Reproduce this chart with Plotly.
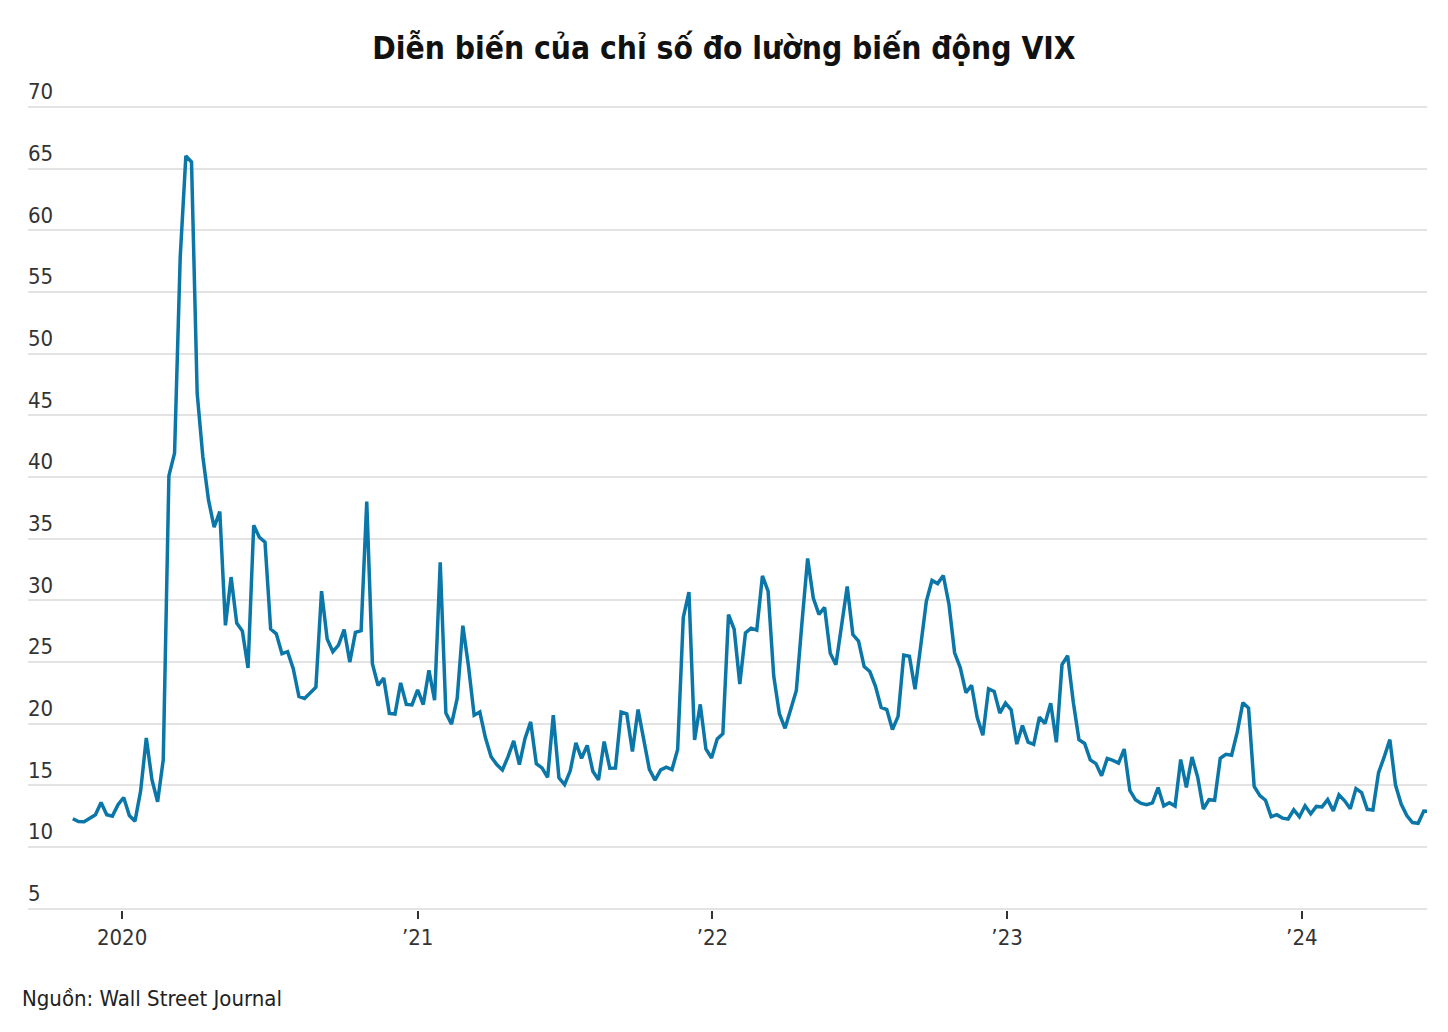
import pandas as pd
import plotly.graph_objects as go

# Weekly VIX closes (Fridays), Nov 2019 - Jun 2024
start_week = "2019-11-01"
vix_2019 = [12.30, 12.07, 12.05, 12.34, 12.62, 13.62, 12.63, 12.51, 13.43]
vix_2020 = [14.02, 12.56, 12.10, 14.56, 18.84,
            15.47, 13.68, 17.08, 40.11,
            41.94, 57.83, 66.04, 65.54,
            46.80, 41.67, 38.15, 35.93,
            37.19, 27.98, 31.89, 28.16, 27.51,
            24.52, 36.09, 35.12, 34.73,
            27.68, 27.29, 25.68, 25.84, 24.46,
            22.21, 22.05, 22.54, 22.96,
            30.75, 26.87, 25.83, 26.38,
            27.63, 25.00, 27.41, 27.55, 38.02,
            24.86, 23.10, 23.70, 20.84,
            20.79, 23.31, 21.57, 21.53]
vix_2021 = [22.75,
            21.56, 24.34, 21.91, 33.09,
            20.87, 19.97, 22.05, 27.95,
            24.66, 20.69, 20.95, 18.86,
            17.33, 16.69, 16.25, 17.33, 18.61,
            16.69, 18.81, 20.15, 16.76,
            16.42, 15.65, 20.70, 15.62,
            15.07, 16.18, 18.45, 17.20, 18.24,
            16.15, 15.45, 18.56, 16.39,
            16.41, 20.95, 20.81, 17.75,
            21.15, 18.77, 16.30, 15.43, 16.26,
            16.48, 16.29, 17.91, 28.62,
            30.67, 18.69, 21.57, 17.96, 17.22]
vix_2022 = [18.76, 19.19, 28.85, 27.66,
            23.22, 27.36, 27.75, 27.59,
            31.98, 30.75, 23.87, 20.81,
            19.63, 21.16, 22.70, 28.21, 33.40,
            30.19, 28.87, 29.43, 25.72,
            24.79, 27.75, 31.13, 27.23,
            26.70, 24.64, 24.23, 23.03, 21.33,
            21.15, 19.53, 20.60, 25.56,
            25.47, 22.79, 26.30, 29.92, 31.62,
            31.36, 32.02, 29.69, 25.75,
            24.55, 22.52, 23.12, 20.50,
            19.06, 22.83, 22.62, 20.87, 21.67]
vix_2023 = [21.13, 18.35, 19.85, 18.51,
            18.33, 20.53, 20.02, 21.67,
            18.49, 24.80, 25.51, 21.74, 18.70,
            18.40, 17.07, 16.77, 15.78,
            17.19, 17.03, 16.81, 17.95,
            14.60, 13.83, 13.54, 13.44, 13.59,
            14.83, 13.34, 13.60, 13.33,
            17.10, 14.84, 17.30, 15.68,
            13.09, 13.84, 13.79, 17.20, 17.52,
            17.45, 19.32, 21.71, 21.27,
            14.91, 14.17, 13.80, 12.46,
            12.63, 12.35, 12.28, 13.03, 12.45]
vix_2024 = [13.35, 12.70, 13.30, 13.26,
            13.85, 12.93, 14.24, 13.75,
            13.11, 14.74, 14.41, 13.06, 13.01,
            16.03, 17.31, 18.71, 15.03,
            13.49, 12.55, 11.99, 11.93, 12.92,
            12.90]

vix = vix_2019 + vix_2020 + vix_2021 + vix_2022 + vix_2023 + vix_2024
dates = pd.date_range(start=start_week, periods=len(vix), freq="W-FRI")

y_ticks = [5, 10, 15, 20, 25, 30, 35, 40, 45, 50, 55, 60, 65, 70]
x_tick_dates = ["2020-01-01", "2021-01-01", "2022-01-01", "2023-01-01", "2024-01-01"]
x_tick_labels = ["2020", "\u201921", "\u201922", "\u201923", "\u201924"]

title_text = "Diễn biến của chỉ số đo lường biến động VIX"
source_text = "Nguồn: Wall Street Journal"

FONT = "Liberation Sans Narrow, DejaVu Sans Condensed, Roboto, sans-serif"

fig = go.Figure()
fig.add_trace(go.Scatter(
    x=dates, y=vix, mode="lines",
    line=dict(color="#0a77a8", width=3.5),
    hoverinfo="skip", showlegend=False,
))

TOP = 62
PLOT_H = 1032 - TOP - 122

fig.update_layout(
    width=1448, height=1032,
    paper_bgcolor="white", plot_bgcolor="white",
    margin=dict(l=28, r=21, t=TOP, b=122),
    title=dict(text="<b>" + title_text + "</b>", x=0.5, xanchor="center",
               y=1 - 48 / 1032, yanchor="middle", yref="container",
               font=dict(family=FONT, size=31.5, color="#111")),
    font=dict(family=FONT, size=22, color="#333"),
    xaxis=dict(
        type="date",
        range=["2019-09-06 12:00", "2024-06-04"],
        tickvals=x_tick_dates, ticktext=x_tick_labels,
        ticks="outside", ticklen=8, tickwidth=1.5, tickcolor="#333",
        showgrid=False, zeroline=False, showline=False,
        tickfont=dict(family=FONT, size=22, color="#333"),
    ),
    yaxis=dict(
        range=[4.9, 70 + (107 - TOP) / 12.334],
        tickvals=y_ticks,
        ticklabelposition="inside top",
        ticklabelstandoff=-3,
        showgrid=True, gridcolor="#e3e3e3", gridwidth=1.5,
        zeroline=False, showline=False, ticks="",
        tickfont=dict(family=FONT, size=22, color="#333"),
    ),
    annotations=[dict(
        text=source_text, xref="paper", yref="paper",
        x=-8 / 1399, y=(910 - 998) / PLOT_H, xanchor="left", yanchor="middle",
        showarrow=False, font=dict(family=FONT, size=22, color="#222"),
    )],
)

fig.write_html("out.html", config={"displayModeBar": False},
               post_script="document.body.style.margin='0';")
